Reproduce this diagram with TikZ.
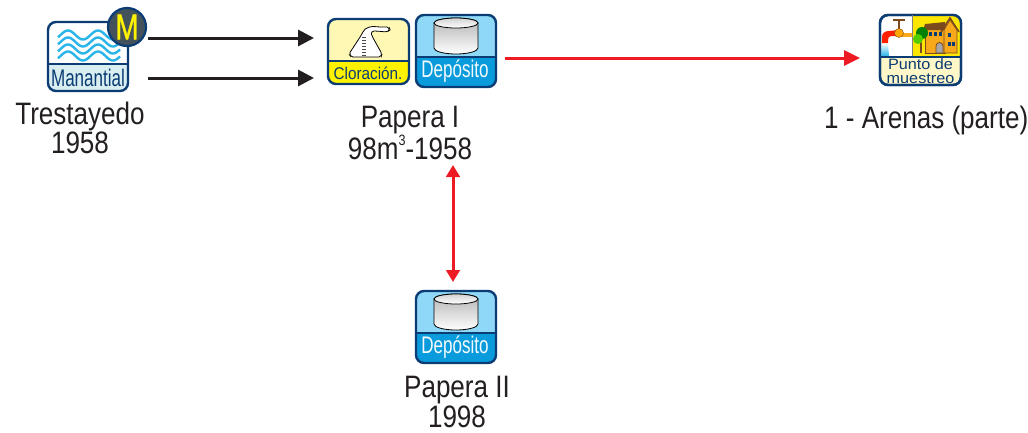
\documentclass[tikz,border=0pt]{standalone}
\usepackage{fontspec}
\setmainfont{Liberation Sans}
\newfontfamily\lblfont[FakeStretch=0.84]{Liberation Sans}
\newfontfamily\icofont[FakeStretch=0.71]{Liberation Sans}
\newfontfamily\clofont[FakeStretch=0.9]{Liberation Sans}
\newfontfamily\ptofont[FakeStretch=1.08]{Liberation Sans}
\newfontfamily\mfont[FakeStretch=0.77,FakeBold=1]{Liberation Sans}
\usetikzlibrary{arrows.meta}
\definecolor{navy}{HTML}{0B3C74}
\definecolor{wavec}{HTML}{29B5EA}
\definecolor{mbot}{HTML}{D9EEF0}
\definecolor{dtop}{HTML}{8FD8F8}
\definecolor{dbot}{HTML}{0A9BDC}
\definecolor{ctop}{HTML}{FFF8B4}
\definecolor{cbot}{HTML}{FFF200}
\definecolor{pbot}{HTML}{FFF7C8}
\definecolor{hbg}{HTML}{FFE600}
\definecolor{mdark}{HTML}{44525C}
\definecolor{arrowblack}{HTML}{231F20}
\definecolor{arrowred}{HTML}{ED1C24}
\definecolor{brown}{HTML}{7A4A1E}
\definecolor{horange}{HTML}{F7A81B}
\tikzset{
  x=1pt,y=-1pt,
  iconframe/.style={draw=navy,line width=2.4pt,rounded corners=8pt,inner sep=0pt,fill=none},
  lbl/.style={inner sep=0pt,align=center,text=arrowblack,font=\lblfont\fontsize{31}{28}\selectfont},
  blackarrow/.style={draw=arrowblack,line width=3pt,-{Triangle[length=16pt,width=16pt]}},
  redarrow/.style={draw=arrowred,line width=3pt,-{Triangle[length=16pt,width=15pt]}},
  reddouble/.style={draw=arrowred,line width=3pt,{Triangle[length=12pt,width=13.5pt]}-{Triangle[length=12pt,width=13.5pt]}},
  icotext/.style={inner sep=0pt,font=\icofont\fontsize{24}{24}\selectfont}
}
% name, x1,y1,x2,y2, divider y, top colour, bottom colour
\newcommand{\iconbox}[8]{%
  \begin{scope}
    \clip[rounded corners=8pt] (#2,#3) rectangle (#4,#5);
    \fill[#7] (#2,#3) rectangle (#4,#6);
    \fill[#8] (#2,#6) rectangle (#4,#5);
  \end{scope}
  \draw[navy,line width=2.2pt] (#2,#6) -- (#4,#6);
  \node[iconframe,minimum width={#4pt-#2pt},minimum height={#5pt-#3pt}] (#1) at ({(#2+#4)/2},{(#3+#5)/2}) {};
}
% cylinder: centre x, offset y
\newcommand{\cyl}[2]{%
  \shade[top color=gray!60,bottom color=white,draw=black,line width=.8pt]
    (#1-22,#2) -- (#1-22,#2+25) arc[start angle=180,end angle=360,x radius=22,y radius=-6] -- (#1+22,#2)
    arc[start angle=0,end angle=180,x radius=22,y radius=-5] -- cycle;
  \shade[top color=gray!35,bottom color=white,draw=black,line width=.8pt] (#1,#2) ellipse[x radius=22,y radius=5];
}
\begin{document}
\begin{tikzpicture}
\useasboundingbox (0,0) rectangle (1028,432);
\fill[white] (0,0) rectangle (1028,432);

% Manantial
\iconbox{mana}{48}{22}{128}{91}{64}{white}{mbot}
\foreach \yc in {35,42,49,56}
  \draw[wavec,line width=2.4pt] plot[domain=58:120,samples=50,smooth] (\x,{\yc-4.5*cos(12*(\x-68))});
\node[icotext,text=navy] (manat) at (88,78) {Manantial};
\node[circle,draw=navy,line width=2.2pt,fill=mdark,minimum size=38pt,inner sep=0pt,text=yellow,font=\mfont\fontsize{36}{36}\selectfont] (m) at (127,27) {M};

% Cloracion
\iconbox{clor}{328}{19}{409}{84}{61}{ctop}{cbot}
\filldraw[fill=white,draw=black,line width=.8pt,rounded corners=2pt]
  (351,57) -- (349,54) -- (362,34) .. controls (365,27) and (372,26) .. (378,27)
  -- (389,27) -- (390,30) -- (387,32) -- (376,31) .. controls (372,31) and (371,33) .. (372,36)
  -- (382,54) -- (381,57) -- cycle;
\foreach \ty in {37,40,...,55}
  \draw[black!70,line width=1pt] (362,\ty) -- (366,\ty);
\node[icotext,text=navy,font=\clofont\fontsize{17}{17}\selectfont] (clort) at (368,73) {Cloración.};

% Deposito I
\iconbox{dep1}{416}{15}{496}{87}{57}{dtop}{dbot}
\cyl{456}{23}
\node[icotext,text=white!90!dtop] (dept1) at (455,71) {Depósito};

% Deposito II
\iconbox{dep2}{416}{291}{496}{363}{333}{dtop}{dbot}
\cyl{456}{299}
\node[icotext,text=white!90!dtop] (dept2) at (455,347) {Depósito};

% Punto de muestreo
\iconbox{punto}{880}{15}{961}{85}{57}{white}{pbot}
\begin{scope}
  \clip[rounded corners=8pt] (880,15) rectangle (961,85);
  \fill[hbg] (912,15) rectangle (961,57);
  \shade[top color=white,bottom color=wavec] (882,43) -- (888,43) -- (889,56) -- (881,56) -- cycle;
  \fill[red!75!orange] (888,43) -- (882,43) -- (882,37) .. controls (882,33) and (885,31) .. (889,31) -- (899,30) -- (899,36) -- (891,36) .. controls (889,36) and (888,37) .. (888,43) -- cycle;
\end{scope}
\draw[navy,line width=2.2pt] (880,57) -- (961,57);
\draw[navy,line width=2.4pt,rounded corners=8pt] (880,15) rectangle (961,85);
\draw[gray,line width=.8pt] (912,15) -- (912,56);
\fill[horange] (899,33) rectangle (912,37);
\fill[brown] (893,19) rectangle (905,21);
\fill[brown] (898,19) rectangle (900,29);
\fill[orange!70!yellow,draw=brown,line width=.4pt] (899,33) circle[radius=4.5];
% house
\fill[brown] (920,42) rectangle (922,53);
\fill[horange,draw=brown,line width=.6pt] (925,29) rectangle (945,53);
\fill[brown] (923,30) -- (925,24) -- (945,22) -- (946,30) -- cycle;
\fill[green!50!black] (922,33) circle[radius=6];
\fill[green!60!yellow!80!black] (918,39) circle[radius=5];
\fill[horange,draw=brown,line width=.6pt] (944,53) -- (944,30) -- (950,20) -- (957,30) -- (957,53) -- cycle;
\draw[brown,line width=1.6pt] (941,32) -- (950,18) -- (959,32);
\foreach \wx in {929,934,939}
  \fill[navy] (\wx,32) rectangle ++(3,4);
\foreach \wx/\wy in {948/33,948/42,952/42}
  \fill[navy] (\wx,\wy) rectangle ++(3,4);
\fill[gray!70,draw=brown,line width=.8pt] (936,53) -- (936,46) arc[start angle=180,end angle=360,radius=3.5] -- (943,53) -- cycle;
\node[icotext,text=navy,align=center,font=\ptofont\fontsize{15}{14}\selectfont] (puntot) at (920.5,71) {Punto de\\muestreo};

% Labels
\node[lbl] (tres) at (80,128) {Trestayedo\\1958};
\node[lbl] (pap1) at (410,133) {Papera I\\98m\raisebox{14pt}{\fontsize{15}{15}\selectfont 3}-1958};
\node[lbl] (pap2) at (457,402) {Papera II\\1998};
\node[lbl,anchor=base west] (aren) at (824,128) {1 - Arenas (parte)};

% Connector ends
\coordinate (a1s) at (148,38);
\coordinate (a1e) at (314,38);
\coordinate (a2s) at (148,78);
\coordinate (a2e) at (314,78);
\coordinate (rs) at (505,58);
\coordinate (re) at (860,58);
\coordinate (ds) at (453,165);
\coordinate (de) at (453,282);
\draw[blackarrow] (a1s) -- (a1e);
\draw[blackarrow] (a2s) -- (a2e);
\draw[redarrow] (rs) -- (re);
\draw[reddouble] (ds) -- (de);
\end{tikzpicture}
\end{document}
